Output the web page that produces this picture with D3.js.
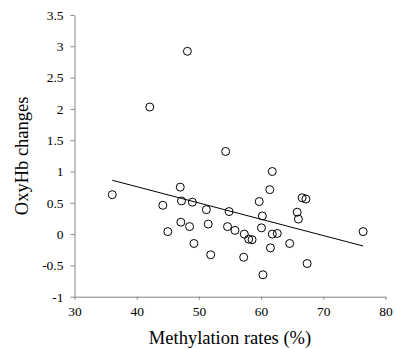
<!DOCTYPE html>
<html lang="en">
<head>
<meta charset="UTF-8">
<title>OxyHb changes vs methylation rates</title>
<script src="https://d3js.org/d3.v7.min.js"></script>
<style>
  body { margin: 0; background: #fff; }
  svg text { font-family: "Liberation Serif", "Times New Roman", serif; fill: #000; }
</style>
</head>
<body>
<svg width="395" height="349"></svg>
<script>
// data
const methylation = [48.15, 42.1, 54.3, 36.07, 47.0, 44.2, 47.2, 48.95, 51.2, 54.85,
  47.1, 48.5, 51.5, 45.0, 54.6, 55.8, 49.2, 51.9, 61.8, 61.4,
  59.7, 66.6, 67.2, 65.8, 66.0, 60.2, 60.06, 57.3, 58.0, 58.55,
  61.8, 62.6, 61.5, 64.6, 57.2, 67.4, 60.3, 76.4];
const oxyHb = [2.92, 2.03, 1.32, 0.63, 0.75, 0.46, 0.53, 0.51, 0.39, 0.36,
  0.19, 0.12, 0.16, 0.04, 0.12, 0.06, -0.15, -0.33, 1.0, 0.71,
  0.52, 0.58, 0.56, 0.35, 0.24, 0.29, 0.10, 0.0, -0.08, -0.09,
  0.0, 0.01, -0.22, -0.15, -0.37, -0.47, -0.65, 0.04];
const trendX = [36.07, 76.4];
const trendY = [0.86, -0.19];
const xTicks = [30, 40, 50, 60, 70, 80];
const yTicks = [-1, -0.5, 0, 0.5, 1, 1.5, 2, 2.5, 3, 3.5];

const svg = d3.select("svg");
const x = d3.scaleLinear().domain([30, 80]).range([74.5, 385.5]);
const y = d3.scaleLinear().domain([-1, 3.5]).range([296.7, 15]);
const axisColor = "#868686";

const xAxis = svg.append("g")
    .attr("transform", `translate(0,${y(-1)})`)
    .call(d3.axisBottom(x).tickValues(xTicks).tickSizeInner(3).tickSizeOuter(0).tickPadding(7));
const yAxis = svg.append("g")
    .attr("transform", `translate(${x(30)},0)`)
    .call(d3.axisLeft(y).tickValues(yTicks).tickSizeInner(4).tickSizeOuter(0).tickPadding(7)
        .tickFormat(d => String(d)));

[xAxis, yAxis].forEach(a => {
    a.select(".domain").attr("stroke", axisColor);
    a.selectAll(".tick line").attr("stroke", axisColor);
    a.selectAll(".tick text").style("font-size", "13.5px").attr("fill", "#000");
});

// trend line
svg.append("line")
    .attr("x1", x(trendX[0])).attr("y1", y(trendY[0]))
    .attr("x2", x(trendX[1])).attr("y2", y(trendY[1]))
    .attr("stroke", "#000").attr("stroke-width", 1);

svg.selectAll(".dot")
    .data(methylation.map((m, i) => ({ m: m, o: oxyHb[i] })))
    .enter().append("circle")
    .attr("class", "dot")
    .attr("cx", d => x(d.m))
    .attr("cy", d => y(d.o))
    .attr("r", 4)
    .attr("fill", "none")
    .attr("stroke", "#000")
    .attr("stroke-width", 1);

svg.append("text")
    .attr("x", x(55)).attr("y", 344)
    .attr("text-anchor", "middle")
    .style("font-size", "18.5px")
    .text("Methylation rates (%)");

svg.append("text")
    .attr("transform", `translate(28,${y(1.25)}) rotate(-90)`)
    .attr("text-anchor", "middle")
    .style("font-size", "18.5px")
    .text("OxyHb changes");
</script>
</body>
</html>
